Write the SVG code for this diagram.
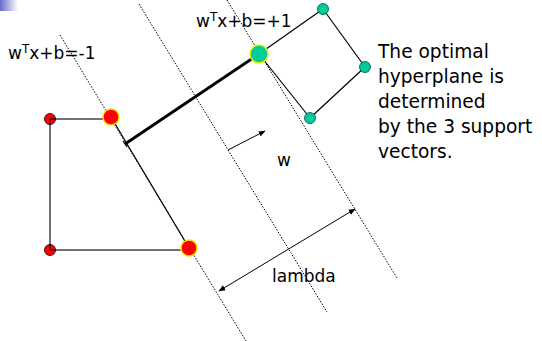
<svg xmlns="http://www.w3.org/2000/svg" width="542" height="341" viewBox="0 0 542 341">
<defs>
<linearGradient id="corner" x1="0" y1="0" x2="1" y2="0">
<stop offset="0" stop-color="#6a6ad0"/>
<stop offset="1" stop-color="#ffffff"/>
</linearGradient>
<marker id="ah" viewBox="0 0 10 10" refX="9" refY="5" markerWidth="7" markerHeight="7" orient="auto-start-reverse" markerUnits="userSpaceOnUse">
<path d="M0,1 L10,5 L0,9 z" fill="#000"/>
</marker>
<style>
text{font-family:"DejaVu Sans","Liberation Sans",sans-serif;fill:#000}
.lbl{font-size:17px}
.note{font-size:18.6px}
.dot{stroke:#000;stroke-width:1;stroke-dasharray:1.5,1.5;fill:none}
.edge{stroke:#444;stroke-width:1.5;fill:none}
.edgeb{stroke:#000;stroke-width:1.2;fill:none}
.sr{fill:#ff0000;stroke:#000;stroke-width:0.8}
.br{fill:#ff0000;stroke:#f5e000;stroke-width:1.5}
.sg{fill:#00cc99;stroke:#005040;stroke-width:0.8}
.bg{fill:#00cc99;stroke:#e8f000;stroke-width:1.5}
</style>
</defs>
<rect x="0" y="0" width="18" height="11" fill="url(#corner)"/>
<g id="connectors">
<line class="dot" x1="60" y1="35" x2="246" y2="341"/>
<line class="dot" x1="139" y1="4" x2="327" y2="312"/>
<line class="dot" x1="227" y1="0" x2="397" y2="278"/>
<line class="edge" x1="50" y1="119" x2="105" y2="119"/>
<line class="edge" x1="50" y1="119" x2="50" y2="250"/>
<line class="edge" x1="50" y1="250" x2="189" y2="250"/>
<line class="edgeb" x1="111" y1="117" x2="189" y2="248"/>
<line class="edgeb" x1="259" y1="54" x2="323" y2="9"/>
<line class="edgeb" x1="323" y1="9" x2="365" y2="67"/>
<line class="edgeb" x1="365" y1="67" x2="310" y2="118"/>
<line class="edgeb" x1="310" y1="118" x2="259" y2="54"/>
<line x1="125" y1="144" x2="259" y2="54" stroke="#000" stroke-width="3"/>
<line x1="123" y1="141" x2="127" y2="147" stroke="#000" stroke-width="1.2"/>
<line x1="228" y1="150" x2="265" y2="131" stroke="#000" stroke-width="1" marker-end="url(#ah)"/>
<line x1="219" y1="291" x2="355" y2="209" stroke="#000" stroke-width="1" marker-start="url(#ah)" marker-end="url(#ah)"/>
</g>
<g id="r1"><circle class="sr" cx="50" cy="119" r="5.5"/><path d="M50,125 V119 H56" stroke="#000" fill="none" stroke-width="1"/></g>
<g id="r2"><circle class="sr" cx="50" cy="250" r="5.5"/><path d="M50,244 V250 H56" stroke="#000" fill="none" stroke-width="1"/></g>
<g id="r3"><circle class="br" cx="111" cy="117" r="8"/></g>
<g id="r4"><circle class="br" cx="189" cy="248" r="8"/></g>
<g id="g1"><circle class="bg" cx="259" cy="54" r="9"/></g>
<g id="g2"><circle class="sg" cx="323" cy="9" r="5.5"/></g>
<g id="g3"><circle class="sg" cx="365" cy="67" r="5.5"/></g>
<g id="g4"><circle class="sg" cx="310" cy="118" r="5.5"/></g>
<g id="labels">
<text class="lbl" x="8" y="59">w<tspan font-size="12" dy="-6">T</tspan><tspan dy="6">x+b=-1</tspan></text>
<text class="lbl" x="196" y="27">w<tspan font-size="12" dy="-6">T</tspan><tspan dy="6">x+b=+1</tspan></text>
<text class="lbl" x="277" y="166">w</text>
<text class="lbl" x="272" y="282">lambda</text>
<text class="note" x="378" y="58">The optimal</text>
<text class="note" x="378" y="83">hyperplane is</text>
<text class="note" x="378" y="108">determined</text>
<text class="note" x="378" y="133">by the 3 support</text>
<text class="note" x="378" y="158">vectors.</text>
</g>
</svg>
